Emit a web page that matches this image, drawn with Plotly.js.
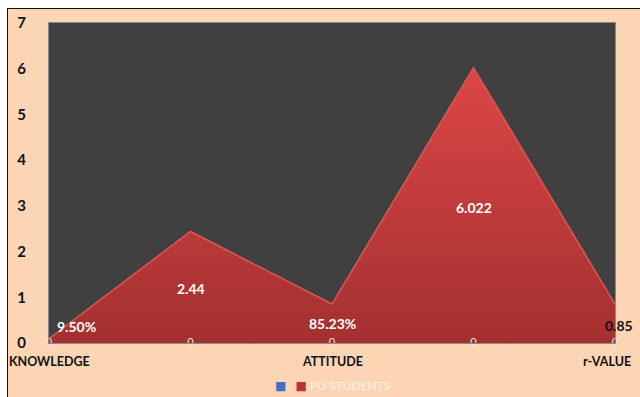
<!DOCTYPE html>
<html>
<head>
<meta charset="utf-8">
<script src="https://cdn.plot.ly/plotly-3.0.1.min.js"></script>
<style>
  html, body { margin:0; padding:0; background:#ffffff; width:640px; height:397px; overflow:hidden; }
  #frame { position:absolute; left:7px; top:8px; width:632px; height:388px;
           border-left:1px solid #111; border-top:1px solid #111; background:#FCD5B5; }
  #chart { width:632px; height:388px; }
</style>
</head>
<body>
<div id="frame"><div id="chart"></div></div>
<script>
// ---- data ----
const categories = ["KNOWLEDGE", "", "ATTITUDE", "", "r-VALUE"];
const seriesNames = ["", "PU STUDENTS"];
const blueValues = [0, 0, 0, 0, 0];
const puValues = [0.095, 2.44, 0.8523, 6.022, 0.85];
const puLabels = ["9.50%", "2.44", "85.23%", "6.022", "0.85"];
const yTicks = [0, 1, 2, 3, 4, 5, 6, 7];

// ---- styling ----
const labelFont = "Lato, 'Open Sans', sans-serif";
const labelShift = [[27, 14], [0, -1], [0, 0], [0, -2], [4, -2]];
const labelColor = ["#ffffff", "#ffffff", "#ffffff", "#ffffff", "#111111"];
const catShift = [0, 0, 0, 0, -8];
const xIdx = categories.map((c, i) => i);

const traces = [
  {
    x: xIdx, y: puValues, type: "scatter", mode: "lines",
    name: seriesNames[1], fill: "tozeroy",
    line: { color: "#E05656", width: 1.5 },
    fillgradient: { type: "vertical", start: 0, stop: 6.022,
      colorscale: [[0, "#A33030"], [1, "#DC4646"]] },
    hoverinfo: "skip", showlegend: false
  },
  {
    x: xIdx, y: blueValues, type: "scatter", mode: "text",
    name: seriesNames[0], text: blueValues.map(String),
    textposition: "middle center",
    textfont: { family: labelFont, size: 11, color: "#F3E4D8" },
    cliponaxis: false, hoverinfo: "skip", showlegend: false
  }
];

const annotations = puValues.map((v, i) => ({
  x: i, y: v / 2, xref: "x", yref: "y", text: puLabels[i], showarrow: false,
  xshift: labelShift[i][0], yshift: labelShift[i][1], borderpad: 0,
  font: { family: labelFont, size: 14, color: labelColor[i], weight: "bold" }
}));

categories.forEach((c, i) => {
  if (!c) return;
  annotations.push({
    x: i, y: 0, xref: "x", yref: "y", text: c, showarrow: false,
    xanchor: "center", yanchor: "middle", yshift: -18, xshift: catShift[i],
    font: { family: labelFont, size: 12.5, color: "#111", weight: "bold" }
  });
});

annotations.push({
  xref: "paper", yref: "paper", x: 0.5, y: 0, yshift: -42, xanchor: "center", yanchor: "middle",
  showarrow: false,
  text: '<span style="color:#3D72C4;font-family:DejaVu Sans">■</span>   <span style="color:#B83232;font-family:DejaVu Sans">■</span> ' + seriesNames[1],
  font: { family: labelFont, size: 12, color: "#FFF3E8" }
});

const layout = {
  width: 632, height: 388,
  margin: { l: 41, r: 25, t: 14, b: 54 },
  paper_bgcolor: "#FCD5B5", plot_bgcolor: "#404040",
  showlegend: false,
  xaxis: {
    range: [0, 4], tickmode: "array", tickvals: xIdx, showticklabels: false,
    showgrid: false, zeroline: false, showline: true, mirror: true,
    linecolor: "#8a8a8a", linewidth: 1, ticks: "", fixedrange: true
  },
  yaxis: {
    range: [0, 7], tickmode: "array", tickvals: yTicks,
    showgrid: false, zeroline: false, showline: true, mirror: true,
    linecolor: "#8a8a8a", linewidth: 1, ticks: "",
    tickfont: { family: labelFont, size: 15, color: "#111", weight: "bold" },
    ticklabelstandoff: 19, fixedrange: true
  },
  annotations: annotations
};

Plotly.newPlot("chart", traces, layout, { displayModeBar: false, staticPlot: true });
</script>
</body>
</html>
